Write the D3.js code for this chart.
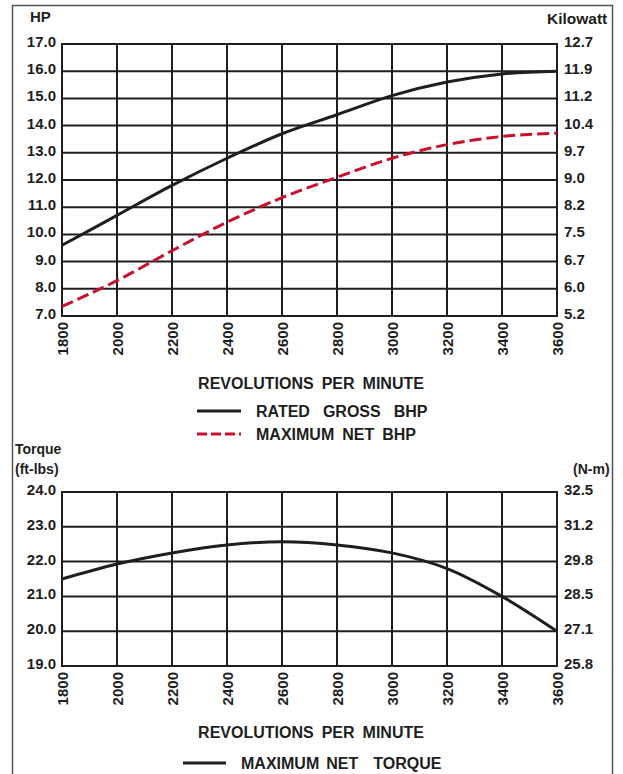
<!DOCTYPE html>
<html>
<head>
<meta charset="utf-8">
<script src="https://cdn.jsdelivr.net/npm/d3@7"></script>
<style>
  body { margin: 0; background: #fff; }
  svg { display: block; }
  text { font-family: "Liberation Sans", Arial, sans-serif; font-weight: bold; fill: #1e1e1e; }
</style>
</head>
<body>
<svg id="chart" width="623" height="774"></svg>
<script>
// rpm values shared by both charts
const rpm = [1800, 2000, 2200, 2400, 2600, 2800, 3000, 3200, 3400, 3600];

// top chart: horsepower
const grossBhp = [9.6, 10.7, 11.8, 12.8, 13.7, 14.4, 15.1, 15.6, 15.9, 16.0];
const netBhp = [7.35, 8.3, 9.4, 10.45, 11.35, 12.1, 12.8, 13.3, 13.6, 13.72];
const hpTicks = [7, 8, 9, 10, 11, 12, 13, 14, 15, 16, 17];
const kwLabels = ["5.2", "6.0", "6.7", "7.5", "8.2", "9.0", "9.7", "10.4", "11.2", "11.9", "12.7"];

// bottom chart: torque
const netTorque = [21.5, 21.93, 22.25, 22.48, 22.57, 22.48, 22.25, 21.8, 21.0, 20.0];
const torqueTicks = [19, 20, 21, 22, 23, 24];
const nmLabels = ["25.8", "27.1", "28.5", "29.8", "31.2", "32.5"];

const svg = d3.select("#chart");
const ink = "#1e1e1e";
const red = "#c8102e";

// outer frame
svg.append("rect")
    .attr("x", 12.5).attr("y", 5.5)
    .attr("width", 600).attr("height", 800)
    .attr("fill", "none").attr("stroke", "#555").attr("stroke-width", 1.5);

const xScale = d3.scaleLinear().domain([1800, 3600]).range([62, 557]);

function drawPanel(yScale, ticks, rightLabels) {
    const g = svg.append("g");
    const [y0, y1] = yScale.range();

    // vertical grid
    g.selectAll(".vgrid")
        .data(rpm)
        .enter()
        .append("line")
        .attr("x1", d => xScale(d)).attr("x2", d => xScale(d))
        .attr("y1", y0).attr("y2", y1)
        .attr("stroke", ink).attr("stroke-width", 2);

    // horizontal grid
    g.selectAll(".hgrid")
        .data(ticks)
        .enter()
        .append("line")
        .attr("x1", xScale.range()[0] - 1).attr("x2", xScale.range()[1] + 1)
        .attr("y1", d => yScale(d)).attr("y2", d => yScale(d))
        .attr("stroke", ink).attr("stroke-width", 2);

    // left labels
    g.selectAll(".ltick")
        .data(ticks)
        .enter()
        .append("text")
        .attr("x", 56)
        .attr("y", d => yScale(d) + 3)
        .attr("text-anchor", "end")
        .style("font-size", "15px")
        .text(d => d.toFixed(1));

    // right labels
    g.selectAll(".rtick")
        .data(ticks)
        .enter()
        .append("text")
        .attr("x", 564)
        .attr("y", d => yScale(d) + 3)
        .style("font-size", "15px")
        .text((d, i) => rightLabels[i]);

    // rotated rpm labels
    g.selectAll(".xtick")
        .data(rpm)
        .enter()
        .append("text")
        .attr("transform", d => `translate(${xScale(d) + 5.5},${y0 + 6}) rotate(-90)`)
        .attr("text-anchor", "end")
        .style("font-size", "15px")
        .text(d => d);

    return g;
}

function drawCurve(g, yScale, values, color, dash, curve) {
    const line = d3.line()
        .x((d, i) => xScale(rpm[i]))
        .y(d => yScale(d))
        .curve(curve);
    g.append("path")
        .datum(values)
        .attr("d", line)
        .attr("fill", "none")
        .attr("stroke", color)
        .attr("stroke-width", 3)
        .attr("stroke-dasharray", dash);
}

// words laid out with explicit gaps (the original uses wide spacing)
function spacedText(x, y, words, gaps, anchor) {
    const t = svg.append("text")
        .attr("x", x).attr("y", y)
        .attr("text-anchor", anchor || "start")
        .style("font-size", "16px");
    words.forEach((w, i) => {
        t.append("tspan").attr("dx", i === 0 ? 0 : gaps[i - 1]).text(w);
    });
    return t;
}

// ---- top chart
const yHp = d3.scaleLinear().domain([7, 17]).range([316, 44]);
const hpPanel = drawPanel(yHp, hpTicks, kwLabels);
drawCurve(hpPanel, yHp, grossBhp, ink, null, d3.curveMonotoneX);
drawCurve(hpPanel, yHp, netBhp, red, "12,5", d3.curveMonotoneX);

svg.append("text").attr("x", 30).attr("y", 22).style("font-size", "15px").text("HP");
svg.append("text").attr("x", 547).attr("y", 24).style("font-size", "15.5px").text("Kilowatt");

spacedText(311, 389, ["REVOLUTIONS", "PER", "MINUTE"], [8, 8], "middle");

// legend for top chart
svg.append("line")
    .attr("x1", 197).attr("x2", 241)
    .attr("y1", 411).attr("y2", 411)
    .attr("stroke", ink).attr("stroke-width", 3);
spacedText(256, 417, ["RATED", "GROSS", "BHP"], [13, 13]);

svg.append("line")
    .attr("x1", 197).attr("x2", 241)
    .attr("y1", 434).attr("y2", 434)
    .attr("stroke", red).attr("stroke-width", 3)
    .attr("stroke-dasharray", "10,4");
spacedText(256, 440, ["MAXIMUM", "NET", "BHP"], [8, 8]);

// ---- bottom chart
const yTq = d3.scaleLinear().domain([19, 24]).range([666, 492]);
const tqPanel = drawPanel(yTq, torqueTicks, nmLabels);
drawCurve(tqPanel, yTq, netTorque, ink, null, d3.curveCatmullRom);

svg.append("text").attr("x", 15).attr("y", 454).style("font-size", "14px").text("Torque");
svg.append("text").attr("x", 15).attr("y", 474).style("font-size", "14px").text("(ft-lbs)");
svg.append("text").attr("x", 573).attr("y", 474).style("font-size", "14px").text("(N-m)");

spacedText(311, 738, ["REVOLUTIONS", "PER", "MINUTE"], [8, 8], "middle");

svg.append("line")
    .attr("x1", 183).attr("x2", 226)
    .attr("y1", 763).attr("y2", 763)
    .attr("stroke", ink).attr("stroke-width", 3);
spacedText(241, 769, ["MAXIMUM", "NET", "TORQUE"], [7, 15]);
</script>
</body>
</html>
